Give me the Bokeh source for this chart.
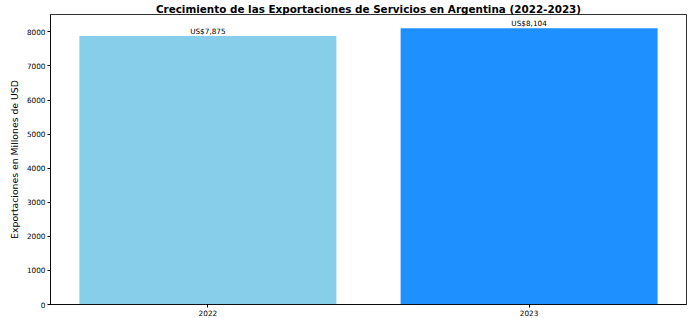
from bokeh.plotting import figure
from bokeh.models import ColumnDataSource, FactorRange, Range1d, SingleIntervalTicker, LabelSet
from bokeh.core.properties import value
from bokeh.embed import file_html
from bokeh.resources import INLINE

years = ["2022", "2023"]
values = [7875, 8104]
colors = ["#87CEEB", "#1E90FF"]
labels = ["US$7,875", "US$8,104"]

FONT = "DejaVu Sans"

src = ColumnDataSource(dict(x=years, top=values, color=colors, label=labels))

p = figure(
    width=697, height=318,
    x_range=FactorRange(*years, range_padding=-0.01),
    y_range=Range1d(0, max(values) * 1.05),
    output_backend="svg", toolbar_location=None,
    min_border_left=50, min_border_right=11, min_border_top=0, min_border_bottom=0,
)
p.vbar(x="x", top="top", width=0.8, color="color", source=src, line_color=None)

p.add_layout(LabelSet(x="x", y="top", text="label", source=src,
                      text_align="center", text_baseline="bottom", y_offset=0,
                      text_font=value(FONT), text_font_size=value("7.3px"),
                      text_color="black"))

p.title.text = "Crecimiento de las Exportaciones de Servicios en Argentina (2022-2023)"
p.title.align = "center"
p.title.text_font = FONT
p.title.text_font_size = "10.4px"
p.title.text_font_style = "bold"
p.title.text_color = "black"
p.title.standoff = 0
p.title.offset = 0

p.xgrid.grid_line_color = None
p.ygrid.grid_line_color = None
p.outline_line_color = "black"
p.outline_line_alpha = 0.8
p.outline_line_width = 1

p.yaxis.ticker = SingleIntervalTicker(interval=1000, num_minor_ticks=0)
p.yaxis.axis_label = "Exportaciones en Millones de USD"
p.yaxis.axis_label_text_font = FONT
p.yaxis.axis_label_text_font_size = "9.3px"
p.yaxis.axis_label_text_font_style = "normal"
p.yaxis.axis_label_text_color = "black"
p.yaxis.axis_label_standoff = 4

for ax in (p.xaxis[0], p.yaxis[0]):
    ax.major_label_text_font = FONT
    ax.major_label_text_font_size = "7.3px"
    ax.major_label_text_color = "black"
    ax.major_tick_out = 3
    ax.major_tick_in = 0
    ax.minor_tick_out = 0
    ax.minor_tick_in = 0
    ax.major_label_standoff = 2
    ax.axis_line_color = "black"
    ax.axis_line_alpha = 0.8
    ax.major_tick_line_color = "black"

p.xaxis.group_text_font_size = "0px"

open("out.html", "w").write(file_html(p, INLINE))
